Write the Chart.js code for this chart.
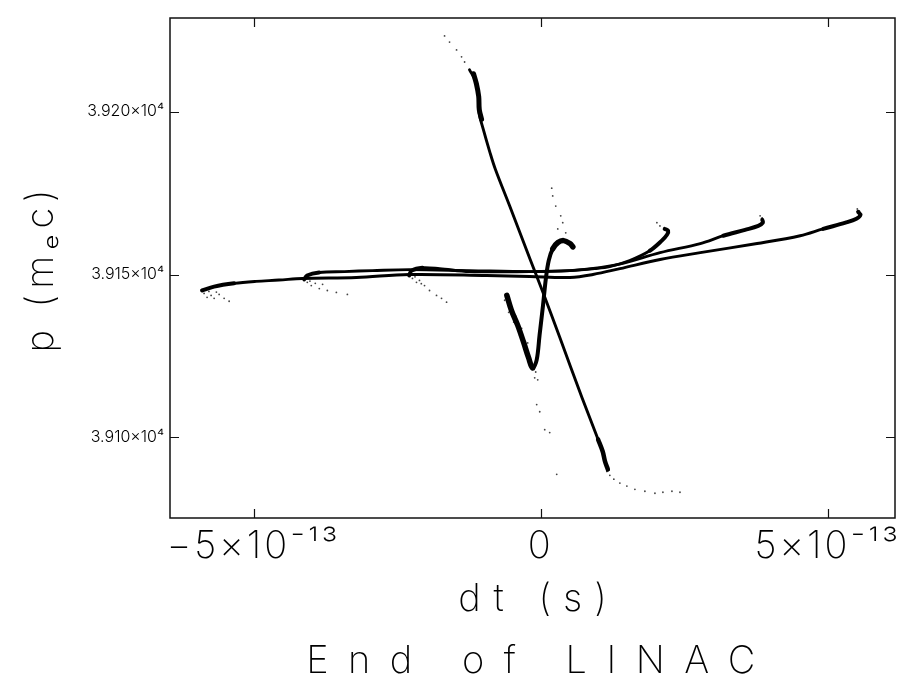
<!DOCTYPE html>
<html><head><meta charset="utf-8">
<script src="https://cdn.jsdelivr.net/npm/chart.js@4"></script>
<style>html,body{margin:0;padding:0;background:#fff}#wrap{width:917px;height:679px}</style>
</head><body><div id="wrap"><canvas id="c" width="917" height="679"></canvas></div>
<script>
// Axis ticks
const xTickValues = [-5e-13, 0, 5e-13];
const xTickLabels = ['−5×10⁻¹³', '0', '5×10⁻¹³'];
const yTickValues = [39100, 39150, 39200];
const yTickLabels = ['3.910×10⁴', '3.915×10⁴', '3.920×10⁴'];

// Bunch A (outermost, hooks at far left / far right)
const bunchA_dt = [-5.90e-13,-5.69e-13,-5.34e-13,-4.96e-13,-4.56e-13,-4.15e-13,-3.21e-13,-2.29e-13,-0.94e-13,-0.19e-13,0.51e-13,0.91e-13,1.38e-13,2.08e-13,2.78e-13,3.77e-13,4.52e-13,4.92e-13,5.31e-13,5.50e-13,5.57e-13,5.53e-13];
const bunchA_p  = [39145.1,39146.3,39147.3,39147.9,39148.3,39148.8,39149.1,39150.0,39149.7,39149.4,39149.1,39150.0,39151.8,39154.6,39156.7,39159.5,39161.9,39164.0,39165.9,39167.1,39168.3,39169.2];
// Bunch B (middle)
const bunchB_dt = [-4.12e-13,-4.07e-13,-3.86e-13,-3.42e-13,-2.93e-13,-2.29e-13,-1.24e-13,-0.19e-13,0.51e-13,1.03e-13,1.43e-13,2.08e-13,2.78e-13,3.18e-13,3.56e-13,3.79e-13,3.87e-13,3.86e-13];
const bunchB_p  = [39148.5,39149.7,39150.6,39150.9,39151.2,39151.5,39151.2,39150.9,39151.2,39152.1,39153.4,39156.7,39159.5,39161.9,39163.7,39164.9,39165.9,39166.8];
// Bunch C (inner)
const bunchC_dt = [-2.29e-13,-2.25e-13,-2.06e-13,-1.76e-13,-1.24e-13,-0.19e-13,0.51e-13,0.94e-13,1.20e-13,1.55e-13,1.90e-13,2.11e-13,2.20e-13,2.22e-13,2.16e-13];
const bunchC_p  = [39149.7,39151.2,39152.1,39151.8,39150.9,39150.9,39151.2,39151.8,39152.4,39154.3,39157.3,39160.4,39162.2,39163.4,39164.0];
// Steep bunch (core line and dense head)
const steep_dt = [-1.24e-13,-1.13e-13,-1.08e-13,-1.07e-13,-1.00e-13,-0.89e-13,-0.79e-13,-0.54e-13,-0.19e-13,0.04e-13,0.33e-13,0.72e-13,1.00e-13,1.08e-13,1.12e-13,1.17e-13];
const steep_p  = [39212.8,39209.2,39204.6,39199.4,39194.5,39187.8,39182.3,39171.0,39154.9,39144.5,39130.8,39112.2,39099.4,39095.7,39092.7,39090.2];
const steepHead_dt = [-1.17e-13,-1.12e-13,-1.08e-13,-1.07e-13,-1.03e-13];
const steepHead_p  = [39211.6,39208.5,39204.6,39200.6,39197.6];
// S-shaped bunch
const sBunch_dt = [-0.59e-13,-0.51e-13,-0.40e-13,-0.30e-13,-0.21e-13,-0.14e-13,-0.07e-13,-0.02e-13,0.04e-13,0.09e-13,0.14e-13,0.21e-13,0.30e-13,0.40e-13,0.51e-13,0.56e-13];
const sBunch_p  = [39143.6,39139.0,39134.4,39129.3,39124.4,39121.3,39123.8,39131.4,39140.5,39148.8,39154.3,39157.9,39159.8,39160.4,39159.5,39158.5];
// Sparse halo particles (dt in units of 1e-13 s)
const halo_dt = [-1.675,-1.588,-1.466,-1.379,-1.326,
 0.192,0.209,0.262,0.349,0.384,0.297,0.436,
 -0.070,-0.017,0.070,0.157,0.279,
 -0.628,-0.558,-0.524,-0.471,-0.436,-0.366,-0.332,-0.262,-0.227,-0.175,-0.087,-0.105,-0.052,
 -5.864,-5.812,-5.742,-5.689,-5.602,-5.515,-5.428,-5.780,-5.650,
 -4.066,-3.997,-3.927,-3.857,-3.717,-3.560,-3.368,-4.020,-3.800,
 -2.234,-2.164,-2.112,-2.024,-1.937,-1.815,-1.728,-1.640,-2.190,-2.080,
 2.024,2.077,3.822,3.857,5.515,5.550,
 1.152,1.204,1.274,1.379,1.501,1.641,1.815,1.990,2.129,2.286,2.426];
const halo_p = [39223.2,39221.3,39218.9,39216.8,39215.2,
 39176.5,39174.1,39171.0,39168.0,39165.9,39164.0,39162.8,
 39110.1,39107.9,39102.4,39101.5,39088.7,
 39142.1,39138.4,39140.5,39135.4,39137.2,39131.4,39133.5,39126.8,39129.0,39122.3,39120.1,39118.3,39117.7,
 39144.2,39143.0,39143.6,39142.7,39143.9,39142.7,39141.8,39144.8,39144.6,
 39147.6,39146.6,39147.3,39145.7,39145.1,39144.5,39143.9,39148.0,39147.0,
 39148.8,39147.6,39148.2,39146.6,39145.1,39143.6,39142.7,39141.5,39149.3,39147.2,
 39165.9,39164.9,39168.0,39167.4,39170.1,39169.5,
 39089.6,39088.4,39087.2,39086.0,39085.1,39084.1,39083.5,39082.9,39083.2,39083.5,39083.2];
const haloUnit = 1e-13;

const pts = (xs, ys, k = 1) => xs.map((x, i) => ({x: x * k, y: ys[i]}));
// w: base line width; head/tail: number of end segments drawn thicker (dense hooks)
const lineDs = (xs, ys, w, head = 0, tail = 0, wEnd = w) => ({
  data: pts(xs, ys), showLine: true, borderColor: '#000', borderWidth: w,
  pointRadius: 0, tension: 0.35, fill: false, borderCapStyle: 'round', borderJoinStyle: 'round',
  segment: {borderWidth: c => (c.p0DataIndex < head || c.p0DataIndex >= xs.length - 1 - tail) ? wEnd : w}
});

const FONT = 'Inter, Lato, "DejaVu Sans", sans-serif';

const framePlugin = {
  id: 'frame',
  beforeDraw(chart) {
    if (chart.$spaced) return;
    chart.$spaced = true;
    const wrap = (obj, name, sp, dxFn) => {
      const orig = obj[name];
      obj[name] = function(...a) {
        const c = this.ctx; c.save(); c.letterSpacing = sp + 'px';
        if (dxFn) c.translate(dxFn.call(this), 0);
        orig.apply(this, a); c.restore();
      };
    };
    wrap(chart.scales.x, 'drawTitle', 12, () => 6);
    wrap(chart.scales.y, 'drawTitle', 6);
    wrap(chart.scales.x, 'drawLabels', 3);
    if (chart.titleBlock) wrap(chart.titleBlock, 'draw', 19.5, function() {
      const a = chart.chartArea;
      return (a.left + a.right) / 2 + 8 - (this.left + this.right) / 2;
    });
  },
  afterDraw(chart) {
    const {ctx, chartArea: a, scales: {x, y}} = chart;
    ctx.save();
    ctx.strokeStyle = '#111';
    ctx.lineWidth = 1.5;
    ctx.strokeRect(a.left, a.top, a.right - a.left, a.bottom - a.top);
    ctx.lineWidth = 1.2;
    ctx.beginPath();
    const L = 9;
    xTickValues.forEach(v => { const px = Math.round(x.getPixelForValue(v)) + 0.5;
      ctx.moveTo(px, a.bottom); ctx.lineTo(px, a.bottom - L);
      ctx.moveTo(px, a.top); ctx.lineTo(px, a.top + L); });
    yTickValues.forEach(v => { const py = Math.round(y.getPixelForValue(v)) + 0.5;
      ctx.moveTo(a.left, py); ctx.lineTo(a.left + L, py);
      ctx.moveTo(a.right, py); ctx.lineTo(a.right - L, py); });
    ctx.stroke();
    ctx.restore();
  }
};

new Chart(document.getElementById('c'), {
  type: 'scatter',
  data: {
    datasets: [
      lineDs(bunchA_dt, bunchA_p, 2.9, 2, 4, 4),
      lineDs(bunchB_dt, bunchB_p, 2.9, 2, 4, 4),
      lineDs(bunchC_dt, bunchC_p, 2.9, 2, 4, 4),
      lineDs(steep_dt, steep_p, 2.9, 0, 3, 4.5),
      lineDs(steepHead_dt, steepHead_p, 5),
      lineDs(sBunch_dt, sBunch_p, 4, 5, 4, 5.5),
      {data: pts(halo_dt, halo_p, haloUnit), showLine: false, pointRadius: 0.9, pointBorderWidth: 0,
       pointBackgroundColor: '#444', backgroundColor: '#444'}
    ]
  },
  options: {
    responsive: false,
    animation: false,
    events: [],
    layout: {padding: {top: 18, right: 22, left: 0, bottom: 0}},
    plugins: {
      legend: {display: false},
      tooltip: {enabled: false},
      title: {display: true, text: 'End of LINAC', position: 'bottom', color: '#000',
        font: {family: FONT, size: 38, weight: 200, lineHeight: 0.9}, padding: {top: 0, bottom: 0}}
    },
    scales: {
      x: {
        type: 'linear', min: -6.458e-13, max: 6.172e-13,
        afterBuildTicks: s => { s.ticks = xTickValues.map(v => ({value: v})); },
        afterFit: s => { s.height = 126.8; },
        grid: {display: false, drawTicks: false},
        border: {display: false},
        ticks: {color: '#000', padding: 6, maxRotation: 0, autoSkip: false,
          font: {family: FONT, size: 38, weight: 200, lineHeight: 1.2},
          callback: (v, i) => xTickLabels[i]},
        title: {display: true, text: 'dt (s)', color: '#000', padding: {top: 0, bottom: 22},
          font: {family: FONT, size: 38, weight: 200, lineHeight: 1.2}}
      },
      y: {
        type: 'linear', min: 39075.3, max: 39228.7,
        afterBuildTicks: s => { s.ticks = yTickValues.map(v => ({value: v})); },
        afterFit: s => { s.width = 170; },
        grid: {display: false, drawTicks: false},
        border: {display: false},
        ticks: {color: '#000', padding: 6, autoSkip: false,
          font: {family: FONT, size: 16, weight: 300},
          callback: (v, i) => yTickLabels[i]},
        title: {display: true, text: 'p (mₑc)', color: '#000', padding: {top: 19, bottom: 0},
          font: {family: FONT, size: 38, weight: 200, lineHeight: 1.2}}
      }
    }
  },
  plugins: [framePlugin]
});
</script></body></html>
